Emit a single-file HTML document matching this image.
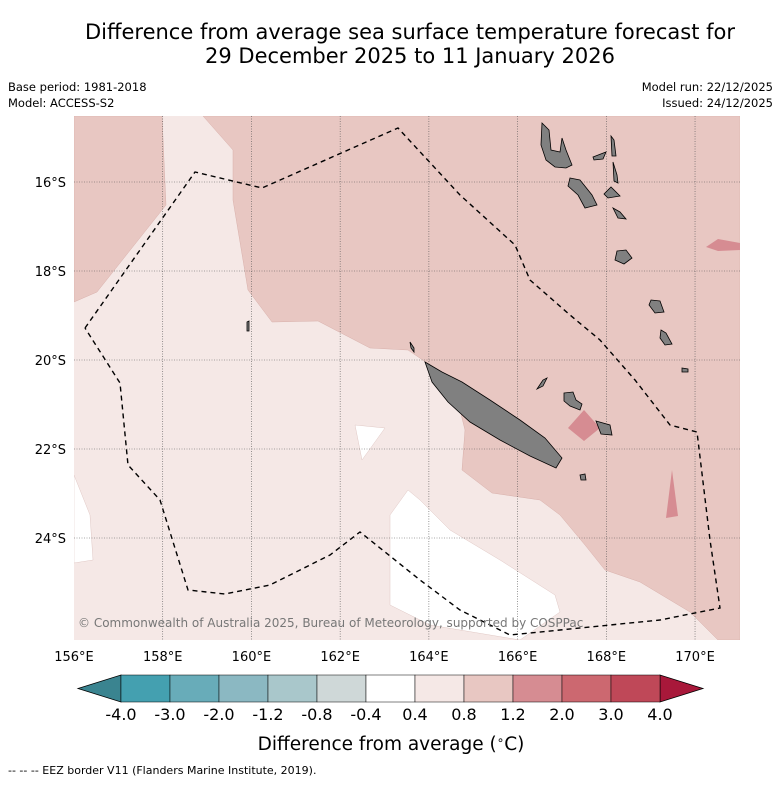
<!DOCTYPE html>
<html><head><meta charset="utf-8"><style>
body{margin:0;background:#fff;width:781px;height:781px;overflow:hidden;font-family:"Liberation Sans",sans-serif}
svg text{font-family:"DejaVu Sans","Liberation Sans",sans-serif}
</style></head><body>
<svg id="c" width="781" height="781" xmlns="http://www.w3.org/2000/svg">
<text x="410" y="39" font-size="21" text-anchor="middle">Difference from average sea surface temperature forecast for</text>
<text x="410" y="63" font-size="21" text-anchor="middle">29 December 2025 to 11 January 2026</text>
<text x="8" y="91" font-size="11.5">Base period: 1981-2018</text>
<text x="8" y="107" font-size="11.5">Model: ACCESS-S2</text>
<text x="773" y="91" font-size="11.5" text-anchor="end">Model run: 22/12/2025</text>
<text x="773" y="107" font-size="11.5" text-anchor="end">Issued: 24/12/2025</text>
<defs><clipPath id="mc"><rect x="74" y="116" width="666" height="524"/></clipPath></defs>
<g clip-path="url(#mc)">
<rect x="74" y="116" width="666" height="524" fill="#f5e8e6"/>
<polygon fill="#e8c7c2" stroke="#d8b0ab" stroke-width="0.5" points="74,116 162,116 166,205 97,292 74,302"/>
<polygon fill="#e8c7c2" stroke="#d8b0ab" stroke-width="0.5" points="203,116 740,116 740,640 718,640 690,612 640,582 605,570 585,545 560,515 540,500 492,493 462,470 465,430 460,410 430,365 408,350 370,348 318,321 272,322 248,290 233,200 233,150"/>
<polygon fill="#fff" stroke="#e0c8c5" stroke-width="0.5" points="355,425 385,428 362,460"/>
<polygon fill="#fff" stroke="#e0c8c5" stroke-width="0.5" points="408,490 390,515 390,605 430,625 520,640 560,612 555,595 500,560 450,530 420,500"/>
<polygon fill="#fff" stroke="#e0c8c5" stroke-width="0.5" points="74,475 90,515 93,560 74,563"/>
<polygon fill="#d68c92" points="706,247 718,239 740,243 740,250 718,251"/>
<polygon fill="#d68c92" points="568,428 584,410 600,428 584,441"/>
<polygon fill="#d68c92" points="672,470 678,516 666,518"/>
<g id="grid"></g>
<g fill="#808080" stroke="#000" stroke-width="0.8">
<polygon points="425,362 442,372 462,382 490,400 520,420 545,438 562,458 556,468 530,456 500,440 470,422 448,402 432,382"/>
<polygon points="542,123 549,130 551,150 560,152 562,138 566,150 572,165 566,168 555,167 546,160 541,145"/>
<polygon points="570,178 580,180 592,195 597,205 585,208 578,195 568,186"/>
<polygon points="593,157 606,152 603,159 594,160"/>
<polygon points="611,136 614,140 616,156 612,156"/>
<polygon points="613,162 617,175 618,183 614,181"/>
<polygon points="604,194 611,187 620,196 608,198"/>
<polygon points="613,208 620,212 626,219 618,218"/>
<polygon points="617,251 626,250 632,258 624,264 615,260"/>
<polygon points="651,300 660,301 664,312 655,313 649,305"/>
<polygon points="661,330 666,333 672,344 665,345 660,338"/>
<polygon points="682,368 688,369 688,372 682,372"/>
<polygon points="564,393 573,392 576,400 582,404 580,410 570,406 564,401"/>
<polygon points="596,421 610,425 612,435 601,434"/>
<polygon points="537,389 543,380 547,378 543,386"/>
<polygon points="580,475 585,474 586,480 581,480"/>
<polygon points="247,322 249,321 249,331 247,331"/>
<polygon points="410,342 414,348 414,352 411,348"/>
</g>
<polyline fill="none" stroke="#000" stroke-width="1.4" stroke-dasharray="5,4" points="85,328 195,172 262,188 398,128 460,195 515,245 530,280 570,315 600,340 635,380 670,425 697,432 710,540 720,608 660,620 560,630 510,635 460,610 420,580 360,532 330,555 270,585 225,594 188,590 160,500 128,465 120,383 85,328"/>
<text x="78" y="627" font-size="12" fill="#777">© Commonwealth of Australia 2025, Bureau of Meteorology, supported by COSPPac</text>
</g>
<g id="axes"></g>
<g id="cbar"></g>
<text x="391" y="750" font-size="18.5" text-anchor="middle">Difference from average (<tspan font-size="12" dy="-6">∘</tspan><tspan dy="6">C)</tspan></text>
<text x="8" y="774" font-size="11">--  --  -- EEZ border V11 (Flanders Marine Institute, 2019).</text>
</svg>
<script>
const lonTicks=[156,158,160,162,164,166,168,170];
const latTicks=[16,18,20,22,24];
const cbBounds=[-4.0,-3.0,-2.0,-1.2,-0.8,-0.4,0.4,0.8,1.2,2.0,3.0,4.0];
const cbColors=["#44a0b0","#68acb9","#8bb8c2","#a9c7cb","#cfd8d8","#ffffff","#f5e8e6","#e8c7c2","#d68c92","#cc6870","#bf4858"];
const ns="http://www.w3.org/2000/svg";
const xs=lon=>74+(lon-156)*44.36;
const ys=lat=>182+(lat-16)*44.5;
function mk(t,a,p){const e=document.createElementNS(ns,t);for(const k in a)e.setAttribute(k,a[k]);p.appendChild(e);return e;}
const grid=document.getElementById('grid'),axes=document.getElementById('axes'),cb=document.getElementById('cbar');
lonTicks.forEach(l=>{
 if(l>156){const g=mk('line',{x1:xs(l),x2:xs(l),y1:116,y2:640,stroke:'#555','stroke-width':0.6,'stroke-dasharray':'1,1.5'},grid);
 
 }
 const t=mk('text',{x:xs(l),y:661,'font-size':13,'text-anchor':'middle'},axes);t.textContent=l+'°E';
 
 
});
latTicks.forEach(l=>{
 const g=mk('line',{x1:74,x2:740,y1:ys(l),y2:ys(l),stroke:'#555','stroke-width':0.6,'stroke-dasharray':'1,1.5'},grid);
 
 
 const t=mk('text',{x:66,y:ys(l)+5,'font-size':13,'text-anchor':'end'},axes);t.textContent=l+'°S';
 
 
});
const nSeg=cbColors.length,cbX0=121,cbW=(660-121)/nSeg,cbTop=675,cbH=27;
const lt=mk('polygon',{points:`78,${cbTop+cbH/2} ${cbX0},${cbTop} ${cbX0},${cbTop+cbH}`,fill:'#3a8490',stroke:'#000','stroke-width':0.8},cb);


const rt=mk('polygon',{points:`703,${cbTop+cbH/2} 660,${cbTop} 660,${cbTop+cbH}`,fill:'#a8183a',stroke:'#000','stroke-width':0.8},cb);


cbColors.forEach((c,i)=>{
 const r=mk('rect',{x:cbX0+i*cbW,y:cbTop,width:cbW,height:cbH,fill:c,stroke:'#000','stroke-width':0.5},cb);
 
 
});
cbBounds.forEach((v,i)=>{
 const t=mk('text',{x:cbX0+i*cbW,y:720,'font-size':16,'text-anchor':'middle'},cb);t.textContent=v.toFixed(1);
 
 
});
</script>
</body></html>
